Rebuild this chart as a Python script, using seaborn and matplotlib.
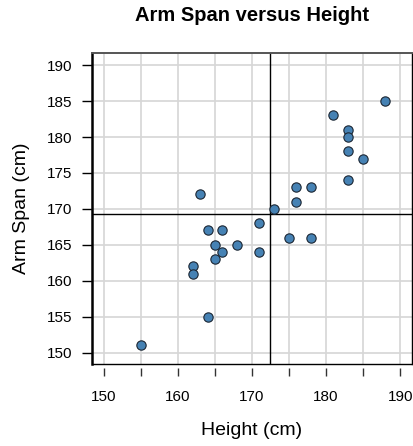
import matplotlib
matplotlib.use("Agg")
import matplotlib.pyplot as plt
import seaborn as sns
import numpy as np
import pandas as pd
from matplotlib.ticker import MultipleLocator

height = [155, 164, 162, 162, 163, 164, 165, 165, 166, 166, 168, 171, 171,
          173, 175, 176, 176, 178, 178, 181, 183, 183, 183, 183, 185, 188]
arm_span = [151, 155, 162, 161, 172, 167, 165, 163, 167, 164, 165, 168, 164,
            170, 166, 173, 171, 173, 166, 183, 181, 180, 178, 174, 177, 185]
x_ticks = [150, 160, 170, 180, 190]
y_ticks = [150, 155, 160, 165, 170, 175, 180, 185, 190]

df = pd.DataFrame({"Height (cm)": height, "Arm Span (cm)": arm_span})

sns.set_theme(style="white")
plt.rcParams['font.family'] = ['Liberation Sans', 'DejaVu Sans']

fig = plt.figure(figsize=(4.14, 4.46), dpi=100)
ax = fig.add_axes([92/414, 1-364/446, 320/414, 311/446])

ax.set_xlim(148.4, 191.6)
ax.set_ylim(148.4, 191.7)
ax.xaxis.set_major_locator(MultipleLocator(5))
ax.yaxis.set_major_locator(MultipleLocator(5))
ax.grid(True, color="#d6d6d6", linewidth=1.2)
ax.set_axisbelow(True)

sns.scatterplot(data=df, x="Height (cm)", y="Arm Span (cm)", ax=ax,
                s=45, color="#4682b4", edgecolor="#1b2633", linewidth=0.8,
                zorder=3)

ax.axvline(np.mean(height), color="black", linewidth=1.0, zorder=2)
ax.axhline(np.mean(arm_span), color="black", linewidth=1.0, zorder=2)

# x ticks every 5, labels every 10
xt = list(range(150, 191, 5))
ax.set_xticks(xt)
ax.set_xticklabels([str(v) if v in x_ticks else "" for v in xt])
ax.set_yticks(y_ticks)
ax.set_yticklabels([str(v) for v in y_ticks])

# spines
ax.spines['bottom'].set_position(('outward', 3))
ax.spines['bottom'].set_visible(False)
ax.plot([0, 1], [0, 0], transform=ax.transAxes, color="black",
        linewidth=1.0, clip_on=False, zorder=4)
ax.spines['left'].set_color("black")
ax.spines['left'].set_linewidth(1.8)
ax.spines['right'].set_color("black")
ax.spines['right'].set_linewidth(1.0)
ax.spines['top'].set_color("#555555")
ax.spines['top'].set_linewidth(1.4)

ax.tick_params(axis='x', direction='out', length=5.5, width=1.0,
               color="#333333", pad=10, labelsize=11, bottom=True,
               labelcolor="black")
ax.tick_params(axis='y', direction='out', length=7, width=1.0,
               color="black", pad=7, labelsize=11, left=True,
               labelcolor="black")

ax.set_xlabel("Height (cm)", fontsize=14, labelpad=13, color="black")
ax.set_ylabel("Arm Span (cm)", fontsize=14, labelpad=12, color="black")
ax.set_title("Arm Span versus Height", fontsize=14.5, fontweight="bold",
             pad=23, color="black")

fig.savefig("out.png", dpi=100)
